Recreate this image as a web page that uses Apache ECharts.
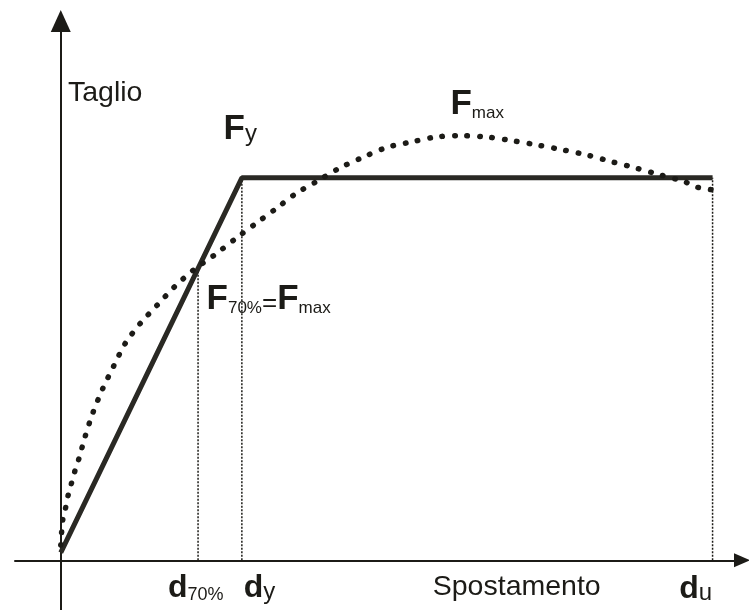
<!DOCTYPE html>
<html>
<head>
<meta charset="utf-8">
<title>Taglio - Spostamento</title>
<script src="https://cdn.jsdelivr.net/npm/echarts@6/dist/echarts.min.js"></script>
<style>
  html, body { margin: 0; padding: 0; background: #fff; }
  #chart { width: 749px; height: 610px; }
</style>
</head>
<body>
<div id="chart"></div>
<script>
// bilinear (solid) curve: origin -> (dy, Fy) -> (du, Fy)
const bilinearX = [0, 27.7, 99.7];
const bilinearY = [2, 100, 100];

const curveX = [0, 0.3, 0.7, 1.1, 1.6, 2.1, 2.8, 3.7, 4.9, 6.4, 8.1, 9.9, 12.2, 14.8, 17.4, 20.3, 23.5, 26.9, 29.8, 32.9, 35.9, 39.1, 42.7, 46, 49.8, 53.7, 57.5, 61.2, 65, 69.1, 72.8, 76.8, 80.4, 84.3, 87.9, 91.6, 95.4, 97.2, 99.5];
const curveY = [4, 10.5, 13.4, 16.8, 19.9, 23, 26.7, 32.2, 38.5, 44.8, 50.8, 56.8, 62, 66.8, 71.5, 75.9, 79.8, 84.3, 88, 91.9, 95.8, 99, 102.6, 105.2, 107.9, 109.4, 110.7, 111, 110.7, 109.7, 108.6, 107.3, 106, 104.2, 102.6, 100.8, 99, 97.6, 96.9];

// vertical guides at d70%, dy, du
const guideX = [21, 27.7, 99.7];
const guideTop = [76, 100, 100];

// annotations
const labelTexts = [
  "{ax|Taglio}",
  "{bigF|F}{subY|y}",
  "{bigF|F}{sub|max}",
  "{bigF|F}{sub|70%}{eq|=}{bigF|F}{sub|max}",
  "{bigD|d}{subD|70%}",
  "{bigD|d}{subY|y}",
  "{ax|Spostamento}",
  "{bigD|d}{subY|u}",
];
const labelX = [1.1, 24.9, 59.6, 22.3, 16.4, 28.0, 56.9, 94.6];
const labelY = [118.3, 108.1, 114.7, 63.6, -11.5, -11.5, -10.7, -11.8];

const ink = "#1c1b17";
const font = "'Liberation Sans', Arial, sans-serif";

const chart = echarts.init(document.getElementById("chart"));

const guideSeries = guideX.map((x, i) => ({
  type: "line",
  data: [[x, 0], [x, guideTop[i]]],
  symbol: "none",
  lineStyle: { color: ink, width: 1.5, type: [2, 1.5] },
  z: 1,
}));

const txt = (size, extra) => Object.assign(
  { fontSize: size, lineHeight: size, verticalAlign: "bottom", color: ink, fontFamily: font },
  extra || {}
);

chart.setOption({
  animation: false,
  backgroundColor: "#fff",
  grid: { left: 15, right: 7, top: 21, bottom: 0 },
  xAxis: {
    type: "value",
    min: -7,
    max: 104.2,
    axisLine: {
      onZero: true,
      lineStyle: { color: ink, width: 2 },
      symbol: ["none", "triangle"],
      symbolSize: [14, 16],
    },
    axisTick: { show: false },
    axisLabel: { show: false },
    splitLine: { show: false },
  },
  yAxis: {
    type: "value",
    min: -13,
    max: 141,
    axisLine: {
      onZero: true,
      lineStyle: { color: ink, width: 2 },
      symbol: ["none", "triangle"],
      symbolSize: [20, 22],
    },
    axisTick: { show: false },
    axisLabel: { show: false },
    splitLine: { show: false },
  },
  series: [
    ...guideSeries,
    {
      name: "bilineare",
      type: "line",
      data: bilinearX.map((x, i) => [x, bilinearY[i]]),
      symbol: "none",
      lineStyle: { color: "#2a2924", width: 5 },
      z: 3,
    },
    {
      name: "curva",
      type: "line",
      data: curveX.map((x, i) => [x, curveY[i]]),
      symbol: "none",
      smooth: 0.3,
      lineStyle: { color: ink, width: 5.5, type: [0.5, 12], cap: "round" },
      z: 4,
    },
    {
      name: "etichette",
      type: "scatter",
      symbolSize: 0,
      itemStyle: { color: ink, opacity: 1 },
      data: labelTexts.map((t, i) => ({ value: [labelX[i], labelY[i]], text: t })),
      label: {
        show: true,
        position: [0, 0],
        align: "left",
        verticalAlign: "bottom",
        opacity: 1,
        formatter: (p) => p.data.text,
        color: ink,
        fontFamily: font,
        rich: {
          ax: txt(28.5),
          bigF: txt(35, { fontWeight: "bold" }),
          bigD: txt(32, { fontWeight: "bold" }),
          subY: txt(24),
          sub: txt(17),
          subD: txt(18),
          eq: txt(26),
        },
      },
      emphasis: { disabled: true },
      z: 5,
    },
  ],
});
</script>
</body>
</html>
